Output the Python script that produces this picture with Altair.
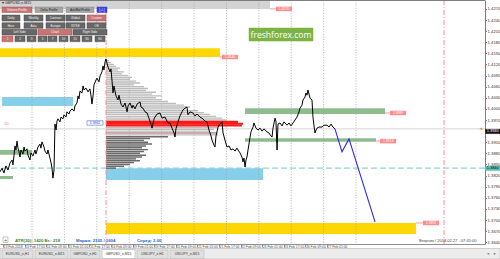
import altair as alt
import pandas as pd

FONT = "Liberation Sans"

# ---------------- GBPUSD M15 close path (trading hours since 13 Feb 2018 01:00) ----------------
hours = [
    -2.2, -0.7, 0.7, 2.2, 3.7, 5.2, 6.7, 7.4, 8.9, 9.6,
    10.4, 11.1, 11.9, 12.6, 13.3, 14.8, 15.6, 16.3, 17.8, 18.5,
    20.0, 20.7, 22.2, 23.7, 24.4, 25.9, 27.4, 28.1, 28.9, 30.4,
    31.1, 32.6, 33.3, 34.8, 35.6, 36.3, 37.0, 37.8, 38.5, 39.3,
    40.0, 40.7, 42.2, 43.0, 44.4, 45.2, 46.7, 47.4, 48.9, 49.6,
    51.1, 52.6, 53.3, 54.8, 55.6, 56.3, 57.0, 58.5, 59.3, 60.0,
    61.5, 63.0, 64.4, 65.2, 65.9, 66.7, 67.4, 68.9, 69.6, 71.1,
    71.9, 73.3, 74.1, 74.8, 75.6, 76.3, 77.0, 77.8, 79.3, 80.0,
    80.7, 81.5, 82.2, 83.7, 85.2, 85.9, 87.4, 88.9, 90.4, 91.9,
    92.6, 94.1, 95.6, 96.3, 97.8, 99.3, 101.5, 102.2, 103.7, 105.2,
    106.7, 108.1, 109.6, 110.4, 111.9, 112.6, 114.1, 116.3, 117.8, 120.0,
    121.5, 122.2, 123.7, 125.2, 126.7, 127.4, 128.1, 129.6, 131.1, 132.6,
    133.3, 134.8, 136.3, 137.0, 138.5, 140.7, 142.2, 143.7, 145.9, 148.1,
    149.6, 151.1, 152.6, 154.1, 154.8, 156.3, 157.0, 157.8, 159.3, 160.7,
    162.2, 163.0, 164.4, 165.9, 167.4, 168.9, 170.4, 171.9, 173.3, 174.1,
    175.6, 177.0, 177.8, 178.5, 179.3, 180.0, 180.7, 181.5, 182.2, 183.0,
    183.7, 185.2, 185.9, 187.4, 188.9, 190.4, 191.9, 193.3, 195.6, 197.0,
    198.5, 199.3, 200.0, 201.5, 202.2, 203.0, 203.7, 205.2, 206.7, 208.1,
    210.4, 211.9, 213.3, 214.8, 216.3, 217.8, 219.3, 220.0, 221.5, 222.2,
    223.7, 224.4, 225.2, 225.9, 226.7, 227.4, 228.9, 229.6, 230.4, 231.1,
    231.9, 232.6, 234.1, 236.3, 237.8, 240.0, 241.5, 243.0, 244.4, 245.9,
]
closes = [
    1.3830, 1.3840, 1.3827, 1.3846, 1.3835, 1.3854, 1.3862, 1.3849, 1.3900, 1.3889,
    1.3913, 1.3894, 1.3884, 1.3870, 1.3889, 1.3878, 1.3897, 1.3886, 1.3892, 1.3875,
    1.3862, 1.3881, 1.3873, 1.3889, 1.3878, 1.3897, 1.3905, 1.3894, 1.3911, 1.3897,
    1.3886, 1.3878, 1.3889, 1.3867, 1.3854, 1.3840, 1.3813, 1.3835, 1.3959, 1.3943,
    1.3967, 1.3973, 1.3965, 1.3978, 1.3973, 1.3984, 1.3978, 1.3992, 1.3986, 1.3994,
    1.4000, 1.3994, 1.4008, 1.4016, 1.4035, 1.4027, 1.4048, 1.4043, 1.4062, 1.4051,
    1.4056, 1.4046, 1.4054, 1.4035, 1.4013, 1.4035, 1.4065, 1.4078, 1.4083, 1.4073,
    1.4089, 1.4100, 1.4116, 1.4105, 1.4127, 1.4135, 1.4124, 1.4113, 1.4100, 1.4108,
    1.4078, 1.4043, 1.4062, 1.4035, 1.4024, 1.4037, 1.4013, 1.4005, 1.4016, 1.3992,
    1.4008, 1.4016, 1.4002, 1.4010, 1.4000, 1.4013, 1.4019, 1.4005, 1.4002, 1.3992,
    1.3989, 1.3975, 1.3959, 1.3948, 1.3973, 1.3978, 1.3986, 1.3989, 1.3975, 1.3978,
    1.3967, 1.3962, 1.3962, 1.3948, 1.3935, 1.3924, 1.3946, 1.3965, 1.3981, 1.3992,
    1.3997, 1.4002, 1.4005, 1.3984, 1.3992, 1.3989, 1.3981, 1.3986, 1.3978, 1.3973,
    1.3967, 1.3965, 1.3943, 1.3927, 1.3916, 1.3902, 1.3897, 1.3927, 1.3951, 1.3959,
    1.3965, 1.3935, 1.3916, 1.3897, 1.3900, 1.3889, 1.3892, 1.3886, 1.3894, 1.3889,
    1.3881, 1.3870, 1.3857, 1.3867, 1.3843, 1.3862, 1.3870, 1.3889, 1.3905, 1.3924,
    1.3938, 1.3951, 1.3962, 1.3948, 1.3943, 1.3948, 1.3940, 1.3946, 1.3938, 1.3935,
    1.3927, 1.3924, 1.3948, 1.3975, 1.3967, 1.3889, 1.3959, 1.3962, 1.3954, 1.3965,
    1.3956, 1.3962, 1.3954, 1.3962, 1.3970, 1.3978, 1.3992, 1.4002, 1.4010, 1.4024,
    1.4032, 1.4043, 1.4037, 1.4051, 1.4040, 1.4029, 1.4024, 1.3978, 1.3954, 1.3935,
    1.3943, 1.3948, 1.3951, 1.3951, 1.3956, 1.3956, 1.3951, 1.3959, 1.3951, 1.3946,
]

# forecast path (blue)
fc_hours = [245.9, 251.1, 256.3, 275.6]
fc_prices = [1.3946, 1.3884, 1.3919, 1.3695]

# ---------------- zones (rectangles) ----------------
zone_kind = ["old", "supply", "demand", "green", "green", "demand", "supply", "green", "green"]
zone_start = [-2.3, -2.3, -0.7, -2.3, -2.3, 76.3, 76.3, 179.3, 179.3]
zone_end = [197.8, 160.7, 51.9, 21.5, 7.4, 192.6, 305.9, 283.0, 276.3]
zone_high = [1.4300, 1.4164, 1.4032, 1.3889, 1.3819, 1.3840, 1.3692, 1.4002, 1.3921]
zone_low = [1.4270, 1.4140, 1.4008, 1.3876, 1.3811, 1.3808, 1.3662, 1.3986, 1.3911]

# ---------------- volume profile ----------------
vp_start = 76.3
vp_price = [
    1.4130, 1.4125, 1.4120, 1.4115, 1.4110, 1.4105, 1.4100, 1.4095, 1.4090, 1.4085,
    1.4080, 1.4075, 1.4070, 1.4065, 1.4060, 1.4055, 1.4050, 1.4045, 1.4040, 1.4035,
    1.4030, 1.4025, 1.4020, 1.4015, 1.4010, 1.4005, 1.4000, 1.3995, 1.3990, 1.3985,
    1.3980, 1.3975, 1.3970, 1.3965, 1.3960, 1.3955, 1.3950, 1.3945, 1.3940, 1.3935,
    1.3930, 1.3925, 1.3920, 1.3915, 1.3910, 1.3905, 1.3900, 1.3895, 1.3890, 1.3885,
    1.3880, 1.3875, 1.3870, 1.3865, 1.3860, 1.3855, 1.3850, 1.3845, 1.3840,
]
vp_volume = [
    3, 5, 8, 10, 14, 12, 18, 16, 22, 26,
    24, 30, 34, 28, 38, 42, 40, 50, 46, 56,
    50, 56, 62, 70, 78, 84, 80, 92, 98, 104,
    110, 116, 120, 132, 137, 136, 112, 108, 104, 110,
    112, 62, 44, 38, 42, 46, 40, 36, 42, 38,
    34, 40, 36, 30, 34, 28, 24, 18, 10,
]
vp_kind = ["upper"] * 33 + ["poc"] * 3 + ["upper"] * 5 + ["lower"] * 18

# ---------------- price tags ----------------
tag_from = [197.8, 160.7, 283.0, 276.3, 305.9, 62.2]
tag_start = [202.2, 162.2, 286.7, 279.3, 311.1, 62.2]
tag_price = [1.4270, 1.4140, 1.3989, 1.3913, 1.3692, 1.3962]
tag_text = ["1.4270", "1.4140", "1.3989", "1.3913", "1.3692", "1.3962"]
tag_kind = ["pink", "pink", "pink", "pink", "pink", "blue"]

# ---------------- axes ----------------
time_ticks = [0, 16, 32, 48, 64, 80, 96, 112, 128, 144, 160, 176, 192, 208, 224, 240]
time_labels = ["13 Feb 2018", "13 Feb 17:00", "14 Feb 09:00", "15 Feb 01:00", "15 Feb 17:00",
               "16 Feb 09:00", "19 Feb 01:00", "19 Feb 17:00", "20 Feb 09:00", "21 Feb 01:00",
               "21 Feb 17:00", "22 Feb 09:00", "23 Feb 01:00", "23 Feb 17:00", "26 Feb 09:00",
               "27 Feb 01:00"]
price_ticks = [1.4270, 1.4240, 1.4210, 1.4180, 1.4150, 1.4120, 1.4090, 1.4060, 1.4030, 1.4000,
               1.3970, 1.3910, 1.3880, 1.3850, 1.3820, 1.3790, 1.3760, 1.3730, 1.3700,
               1.3670, 1.3640]
grid_hours = [21.5, 45.5, 69.5, 93.5, 117.5, 141.5, 165.5, 189.5, 213.5, 237.5, 261.5]
session_hours = [76.3, 326.7]
last_price = 1.3946
level_price = 1.3840
poc_line_price = 1.3935

# ---------------- geometry ----------------
W, H = 485, 244
T0, T1 = -2.222, 357.04
P0, P1 = 1.36352, 1.4294


def px_t(px):
    return T0 + px * (T1 - T0) / W


def py_p(py):
    return P1 - py * (P1 - P0) / H


xs = alt.Scale(domain=[T0, T1], nice=False, zero=False)
ys = alt.Scale(domain=[P0, P1], nice=False, zero=False)
label_expr = "[" + ",".join("'%s'" % s for s in time_labels) + "][round(datum.value/16)]"
xaxis = alt.Axis(orient="bottom", values=time_ticks, labelExpr=label_expr, labelFontSize=3.4,
                 labelAlign="left", labelBaseline="top", labelPadding=-2.6,
                 tickSize=3, labelOverlap=False, labelFlush=False, grid=False, title=None,
                 domainColor="#909090", tickColor="#909090", labelColor="#484848")
yaxis = alt.Axis(orient="right", values=price_ticks, format=".4f", labelFontSize=4.2,
                 tickSize=1.5, labelPadding=0.6, labelOverlap=False, labelFlush=False,
                 grid=False, title=None, domainColor="#808080", tickColor="#808080",
                 labelColor="#303030")


def X(f):
    return alt.X(f + ":Q", scale=xs, axis=xaxis)


def Y(f):
    return alt.Y(f + ":Q", scale=ys, axis=yaxis)


layers = []

# zones
zones_df = pd.DataFrame(dict(kind=zone_kind, t0=zone_start, t1=zone_end, hi=zone_high, lo=zone_low))
zone_colors = {"old": "#d3d3d3", "supply": "#ffd700", "demand": "#87ceeb", "green": "#8fbc8f"}


def zone_layer(kind):
    return alt.Chart(zones_df).transform_filter(alt.datum.kind == kind).mark_rect(
        color=zone_colors[kind]).encode(x=X("t0"), x2="t1", y=Y("hi"), y2="lo")


layers.append(zone_layer("old"))
layers.append(alt.Chart(pd.DataFrame({"p": [level_price]})).mark_rule(
    color="#8fd6ce", strokeDash=[6, 3], strokeWidth=1.2).encode(y=Y("p")))
for k in ["supply", "demand", "green"]:
    layers.append(zone_layer(k))

# grid
layers.append(alt.Chart(pd.DataFrame({"t": grid_hours})).mark_rule(
    color="#a0a0a0", strokeDash=[1, 1.6], strokeWidth=0.8).encode(x=X("t")))
layers.append(alt.Chart(pd.DataFrame({"p": [last_price]})).mark_rule(
    color="#c8c8c8", strokeWidth=0.8).encode(y=Y("p")))

# volume profile
vp_df = pd.DataFrame(dict(price=vp_price, vol=vp_volume, kind=vp_kind))
vp_colors = {"upper": "#bdbdbd", "lower": "#6a6a6a", "poc": "#ff1a1a"}
vp_half = {"upper": 0.00018, "lower": 0.0002, "poc": 0.00028}
for k in ["upper", "lower", "poc"]:
    layers.append(alt.Chart(vp_df).transform_filter(alt.datum.kind == k).transform_calculate(
        t0="%s" % vp_start, t1="%s + datum.vol * 0.7407" % vp_start,
        hi="datum.price + %s" % vp_half[k], lo="datum.price - %s" % vp_half[k]).mark_rect(
        color=vp_colors[k]).encode(x=X("t0"), x2="t1", y=Y("hi"), y2="lo"))
# thin red secondary level inside the profile
layers.append(alt.Chart(pd.DataFrame({"t0": [vp_start], "t1": [vp_start + 83], "p": [poc_line_price]})).mark_rule(
    color="#e05050", strokeWidth=0.6).encode(x=X("t0"), x2="t1", y=Y("p")))

# session separators
layers.append(alt.Chart(pd.DataFrame({"t": session_hours})).mark_rule(
    color="#ff8c8c", strokeDash=[5, 2, 1, 2], strokeWidth=1).encode(x=X("t")))

# price and forecast
layers.append(alt.Chart(pd.DataFrame({"t": hours, "p": closes})).mark_line(
    color="#000000", strokeWidth=1.0).encode(x=X("t"), y=Y("p")))
layers.append(alt.Chart(pd.DataFrame({"t": fc_hours, "p": fc_prices})).mark_line(
    color="#2a2ae6", strokeWidth=1.1).encode(x=X("t"), y=Y("p")))

# tags
tags_df = pd.DataFrame(dict(tf=tag_from, ts=tag_start, p=tag_price, txt=tag_text, kind=tag_kind))
tags_calc = dict(te="datum.ts + 11.9", tc="datum.ts + 5.95", hi="datum.p + 0.0006", lo="datum.p - 0.0006")
layers.append(alt.Chart(tags_df).transform_filter(alt.datum.kind == "pink").mark_rule(
    color="#ff8080", strokeWidth=0.8).encode(x=X("tf"), x2="ts", y=Y("p")))
layers.append(alt.Chart(tags_df).transform_filter(alt.datum.kind == "pink").transform_calculate(
    **tags_calc).mark_rect(color="#ff8c8c").encode(x=X("ts"), x2="te", y=Y("hi"), y2="lo"))
layers.append(alt.Chart(tags_df).transform_filter(alt.datum.kind == "blue").transform_calculate(
    **tags_calc).mark_rect(fill="#ffffff", stroke="#4f6fe0", strokeWidth=0.6).encode(
    x=X("ts"), x2="te", y=Y("hi"), y2="lo"))
layers.append(alt.Chart(tags_df).transform_filter(alt.datum.kind == "pink").transform_calculate(
    **tags_calc).mark_text(fontSize=3.4, color="#ffffff", font=FONT).encode(
    x=X("tc"), y=Y("p"), text="txt:N"))
layers.append(alt.Chart(tags_df).transform_filter(alt.datum.kind == "blue").transform_calculate(
    **tags_calc).mark_text(fontSize=3.4, color="#2040d0", font=FONT).encode(
    x=X("tc"), y=Y("p"), text="txt:N"))

# ---------------- terminal chrome (pixel layout) ----------------
ui_rects = [
    (0, 107, 0, 5, "header"),
    (2, 32, 7, 12.5, "active"), (35, 63, 7, 12.5, "light"), (66, 94, 7, 12.5, "light"), (97, 107, 7, 12.5, "blue"),
    (2, 20, 15, 21, "dark"), (24, 43, 15, 21, "dark"), (46, 65, 15, 21, "dark"), (66, 85, 15, 21, "dark"), (87, 106, 15, 21, "active"),
    (2, 20, 22.7, 28.3, "dark"), (24, 43, 22.7, 28.3, "dark"), (46, 65, 22.7, 28.3, "dark"), (66, 85, 22.7, 28.3, "dark"), (87, 106, 22.7, 28.3, "dark"),
    (2, 37, 29.3, 35, "dark"), (38, 72, 29.3, 35, "active"), (73, 107, 29.3, 35, "dark"),
    (2, 13, 36, 41.7, "active"), (15, 25, 36, 41.7, "dark"), (27, 36, 36, 41.7, "dark"), (38, 47, 36, 41.7, "dark"),
    (48, 57, 36, 41.7, "dark"), (59, 68, 36, 41.7, "dark"), (70, 80, 36, 41.7, "dark"), (82, 92, 36, 41.7, "dark"),
    (95, 105, 36, 41.7, "dark"),
    (249, 313, 28, 41, "brand"),
    (485.5, 500, 129.2, 133.6, "cur"), (485.5, 500, 166.2, 170.6, "lvl"),
    (3, 8, 237, 242.5, "plus"),
    (0, 500, 248.5, 259, "tabbar"),
    (2, 33, 250, 258.5, "tab"), (35, 68, 250, 258.5, "tab"), (70, 100, 250, 258.5, "tab"),
    (102, 135, 249.5, 258.5, "tab_active"), (137, 168, 250, 258.5, "tab"), (170, 204, 250, 258.5, "tab"),
]
rect_styles = {
    "header": ("#d2d2d2", "#d2d2d2"), "active": ("#c97474", "#a04848"), "light": ("#a5a5a5", "#858585"),
    "blue": ("#3c3cd8", "#3c3cd8"), "dark": ("#676767", "#4a4a4a"), "brand": ("#7cb342", "#7cb342"),
    "cur": ("#111111", "#111111"), "lvl": ("#5cc2b8", "#5cc2b8"), "plus": ("#ffffff", "#909090"),
    "tabbar": ("#ececec", "#a8a8a8"), "tab": ("#e0e0e0", "#b4b4b4"), "tab_active": ("#ffffff", "#a0a0a0"),
}
ui_rect_df = pd.DataFrame([dict(t0=px_t(a), t1=px_t(b), p0=py_p(c), p1=py_p(d), style=s)
                           for a, b, c, d, s in ui_rects])
for s, (fill, stroke) in rect_styles.items():
    layers.append(alt.Chart(ui_rect_df).transform_filter(alt.datum.style == s).mark_rect(
        fill=fill, stroke=stroke, strokeWidth=0.5).encode(x=X("t0"), x2="t1", y=Y("p0"), y2="p1"))

ui_texts = [
    (2, 2.7, "\u25be GBPUSD,e,M15", "title"),
    (17, 9.8, "Volume Profile", "btn_w"), (49, 9.8, "Delta Profile", "btn_k"), (80, 9.8, "Ask/Bid Profile", "btn_k"),
    (102, 9.8, "[+/-]", "btn_w"),
    (11, 18, "Daily", "btn_w"), (33.5, 18, "Weekly", "btn_w"), (55.5, 18, "Contract", "btn_w"),
    (75.5, 18, "Global", "btn_w"), (96.5, 18, "Custom", "btn_w"),
    (11, 25.5, "Hour", "btn_w"), (33.5, 25.5, "Asia", "btn_w"), (55.5, 25.5, "Europe", "btn_w"),
    (75.5, 25.5, "NYSE", "btn_w"), (96.5, 25.5, "Off", "btn_w"),
    (19.5, 32.2, "Left Side", "btn_w"), (55, 32.2, "Chart", "btn_w"), (90, 32.2, "Right Side", "btn_w"),
    (7.5, 38.9, "1", "btn_w"), (20, 38.9, "2", "btn_w"), (31.5, 38.9, "3", "btn_w"), (42.5, 38.9, "5", "btn_w"),
    (52.5, 38.9, "7", "btn_w"), (63.5, 38.9, "10", "btn_w"), (75, 38.9, "15", "btn_w"), (87, 38.9, "30", "btn_w"),
    (100, 38.9, "60", "btn_w"),
    (281, 34.6, "freshforex.com", "brand"),
    (4, 124, "10", "ten"),
    (5.5, 239.8, "+", "plus"),
    (15, 241, "ATR(30): 1420   \u0412r.: 218", "atr"),
    (76, 241, "\u041c\u0430\u0440\u0436\u0430: 2165 / 1604", "blue"),
    (137, 241, "\u0421\u043f\u0440\u0435\u0434: 2.00", "blue"),
    (419, 241, "\u0412\u0442\u043e\u0440\u043d\u0438\u043a / 2018.02.27 - 07:45:00", "date"),
    (492.7, 131.4, "1.3940", "cur"), (492.7, 168.4, "1.3840", "lvl"),
    (481, 128.5, "\u25c4", "arrow"),
    (17.5, 254.3, "EURUSD_e,H1", "tab"), (51.5, 254.3, "EURUSD_e,M15", "tab"), (85, 254.3, "GBPUSD_e,H1", "tab"),
    (118.5, 254.3, "GBPUSD_e,M15", "tab"), (152.5, 254.3, "USDJPY_e,H1", "tab"), (187, 254.3, "USDJPY_e,M15", "tab"),
    (488, 254, "\u25c4", "tabarrow"), (495, 254, "\u25ba", "tabarrow"),
]
text_styles = {
    "title": dict(fontSize=3.6, color="#222222", align="left"),
    "btn_w": dict(fontSize=3.1, color="#f4f4f4", align="center"),
    "btn_k": dict(fontSize=3.1, color="#222222", align="center"),
    "brand": dict(fontSize=8.6, color="#ffffff", align="center", font="Open Sans"),
    "ten": dict(fontSize=4.2, color="#ff7070", align="left"),
    "plus": dict(fontSize=5.5, color="#555555", align="center"),
    "atr": dict(fontSize=4.3, color="#2e8b3a", align="left", fontWeight="bold"),
    "blue": dict(fontSize=4.3, color="#1a66cc", align="left", fontWeight="bold"),
    "date": dict(fontSize=4.0, color="#444444", align="left"),
    "cur": dict(fontSize=3.9, color="#ffffff", align="center"),
    "lvl": dict(fontSize=3.9, color="#000000", align="center"),
    "arrow": dict(fontSize=4.5, color="#ff8c00", align="center"),
    "tab": dict(fontSize=3.4, color="#333333", align="center"),
    "tabarrow": dict(fontSize=4.0, color="#888888", align="center"),
}
ui_text_df = pd.DataFrame([dict(t=px_t(a), p=py_p(b), txt=c, style=s) for a, b, c, s in ui_texts])
for s, st in text_styles.items():
    kw = dict(baseline="middle", font=FONT)
    kw.update(st)
    layers.append(alt.Chart(ui_text_df).transform_filter(alt.datum.style == s).mark_text(**kw).encode(
        x=X("t"), y=Y("p"), text="txt:N"))

# top border of the chart window
layers.append(alt.Chart(pd.DataFrame({"p": [py_p(0.4)]})).mark_rule(
    color="#707070", strokeWidth=1).encode(y=Y("p")))

chart = alt.layer(*layers).properties(
    width=W, height=H,
    padding={"left": 0, "top": 0, "right": 15, "bottom": 15},
    autosize=alt.AutoSizeParams(type="none"),
    background="#ffffff",
).configure_view(stroke=None).configure_axis(labelFont=FONT)

chart.save("out.html", embed_options={"renderer": "svg", "actions": False})
